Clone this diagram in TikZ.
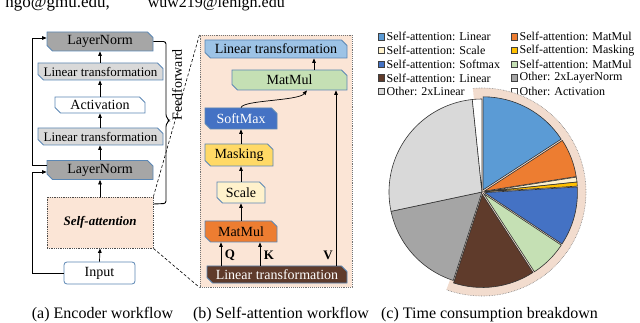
\documentclass[tikz,border=0pt]{standalone}
\usepackage{fontspec}
\setmainfont{Liberation Serif}
\usetikzlibrary{arrows.meta,shapes.misc,calc}
\definecolor{bdr}{HTML}{5B87B4}
\definecolor{lngray}{HTML}{A6A6A6}
\definecolor{ltgray}{HTML}{D9D9D9}
\definecolor{peach}{HTML}{FBE5D6}
\definecolor{peachbg}{HTML}{F2DCCE}
\definecolor{ltblue}{HTML}{9DC3E6}
\definecolor{pgreen}{HTML}{C5E0B4}
\definecolor{smblue}{HTML}{4472C4}
\definecolor{myellow}{HTML}{FFD966}
\definecolor{cream}{HTML}{FFF2CC}
\definecolor{morange}{HTML}{ED7D31}
\definecolor{mbrown}{HTML}{5F3B2B}
\definecolor{linblue}{HTML}{5B9BD5}
\definecolor{mgold}{HTML}{FFC000}
\definecolor{pgray}{HTML}{A5A5A5}
\newcommand\fsz[1]{\fontsize{#1}{#1}\selectfont}
\newcommand\pieslice[4]{%
  \pgfmathsetmacro\psA{#1-90}%
  \pgfmathsetmacro\psB{#2-90}%
  \pgfmathsetmacro\psM{(#1+#2)/2-90}%
  \filldraw[slice, fill=#3, shift={(\psM:#4)}] (482,192) -- ++(\psA:93) arc[start angle=\psA, end angle=\psB, radius=93] -- cycle;}
\begin{document}
\begin{tikzpicture}[x=1pt,y=-1pt,
  box/.style={chamfered rectangle, chamfered rectangle corners={north east,south west},
    chamfered rectangle xsep=2.5pt, draw=bdr, line width=0.8pt, inner sep=0pt, font=\fsz{14}},
  arr/.style={-{Triangle[length=4.5pt,width=3.6pt]}, line width=0.7pt},
  slice/.style={draw=black!80, line width=0.6pt},
  legsq/.style={draw=black!75, line width=0.5pt, minimum size=6.5pt, inner sep=0pt},
  legtxt/.style={anchor=west, font=\fsz{12}, inner sep=0pt},
  captxt/.style={font=\fsz{16}, anchor=base, inner sep=0pt},
  zoomln/.style={dash pattern=on 3pt off 2pt, line width=0.6pt}]
\useasboundingbox (0,0) rectangle (640,323);

% cut-off header text
\node[font=\fsz{17}, anchor=base east, inner sep=0pt] (mail1) at (110,8) {ngo@gmu.edu,};
\node[font=\fsz{16}, anchor=base east, inner sep=0pt] (mail2) at (285,8) {\textsuperscript{*}wuw219@lehigh.edu};

% ---------- panel (a)
\node[box, fill=lngray, minimum width=106pt, minimum height=19pt] (ln1) at (100,41.5) {LayerNorm};
\node[box, fill=ltgray, minimum width=125pt, minimum height=17pt, font=\fsz{13}] (lt1) at (100.5,71.5) {Linear transformation};
\node[box, fill=white, minimum width=90pt, minimum height=16pt] (act) at (100,105) {Activation};
\node[box, fill=ltgray, minimum width=125pt, minimum height=17pt, font=\fsz{13}] (lt2) at (100.5,136.5) {Linear transformation};
\node[box, fill=lngray, minimum width=106pt, minimum height=19pt] (ln2) at (100,170) {LayerNorm};
\node[draw=black!70, densely dotted, line width=0.8pt, fill=peach, minimum width=106pt, minimum height=51pt,
  font=\fsz{13}\bfseries\itshape] (sa) at (100,222.5) {Self-attention};
\node[rounded corners=3pt, draw=bdr, line width=0.8pt, fill=white, minimum width=71pt, minimum height=22pt,
  font=\fsz{14}] (inp) at (99.5,273) {Input};

\draw[arr] (inp.north) -- (sa.south);
\draw[arr] (sa.north) -- (ln2.south);
\draw[arr] (ln2.north) -- (ln2.north |- lt2.south);
\draw[arr] (lt2.north -| act.south) -- (act.south);
\draw[arr] (act.north) -- (act.north |- lt1.south);
\draw[arr] (lt1.north -| ln1.south) -- (ln1.south);
\draw[arr] (inp.west) -- ++(-31,0) |- ([yshift=-2pt]ln2.west);
\draw[arr] ([yshift=5pt]ln2.west) -- ++(-14,0) |- ([yshift=3.5pt]ln1.west);

\draw[line width=0.9pt, rounded corners=2.5pt] (ln1.east) -- (166,41.5) -- (166,117) -- (169.5,120.5) -- (166,124)
  -- (166,203.5) -- ([yshift=18.5pt]sa.east);
\node[rotate=90, font=\fsz{14}, inner sep=0pt] (ff) at (177,85) {Feedforward};

% ---------- panel (b)
\node[draw=black!55, densely dotted, line width=0.9pt, fill=peach, minimum width=152pt, minimum height=252pt] (pb) at (276,161) {};
\draw[zoomln] (sa.north east) -- (pb.north west);
\draw[zoomln] (sa.south east) -- (pb.south west);

\node[box, fill=ltblue, minimum width=142pt, minimum height=18pt] (blt) at (276,49) {Linear transformation};
\node[box, fill=pgreen, minimum width=115pt, minimum height=20pt] (mmg) at (289.5,80) {MatMul};
\node[box, fill=smblue, text=white, minimum width=72pt, minimum height=21pt] (sm) at (241,118.5) {SoftMax};
\node[box, fill=myellow, minimum width=68pt, minimum height=22pt] (mask) at (239,155) {Masking};
\node[box, fill=cream, minimum width=48pt, minimum height=21pt] (scale) at (241,192.5) {Scale};
\node[box, fill=morange, minimum width=72pt, minimum height=21pt] (mmo) at (241,231.5) {MatMul};
\node[box, fill=mbrown, text=white, minimum width=140pt, minimum height=17pt] (llt) at (277,274.5) {Linear transformation};

\coordinate (qx) at (221,0);
\coordinate (kx) at (260,0);
\coordinate (vx) at (336,0);
\coordinate (sx) at (307,0);
\coordinate (mx) at (314,0);
\draw[arr] (qx |- llt.north) -- (qx |- mmo.south);
\draw[arr] (kx |- llt.north) -- (kx |- mmo.south);
\draw[arr] (vx |- llt.north) -- (vx |- mmg.south);
\draw[arr] (mmo.north) -- (scale.south);
\draw[arr] (scale.north) -- (scale.north |- mask.south);
\draw[arr] (sm.south |- mask.north) -- (sm.south);
\draw[arr] (sm.north) .. controls (243,100) and (298,101) .. (sx |- mmg.south);
\draw[arr] (mx |- mmg.north) -- (mx |- blt.south);
\node[font=\fsz{13}\bfseries, inner sep=0pt] (ql) at (230,255) {Q};
\node[font=\fsz{13}\bfseries, inner sep=0pt] (kl) at (269,255) {K};
\node[font=\fsz{13}\bfseries, inner sep=0pt] (vl) at (328,255) {V};

% ---------- panel (c): legend
\node[legsq, fill=linblue] (q1) at (381,36.7) {};
\node[legtxt] (t1) at (386.5,36.7) {Self-attention: Linear};
\node[legsq, fill=cream] (q2) at (381,50.5) {};
\node[legtxt] (t2) at (386.5,50.5) {Self-attention: Scale};
\node[legsq, fill=smblue] (q3) at (381,64.2) {};
\node[legtxt] (t3) at (386.5,64.2) {Self-attention: Softmax};
\node[legsq, fill=mbrown] (q4) at (381,77.9) {};
\node[legtxt] (t4) at (386.5,77.9) {Self-attention: Linear};
\node[legsq, fill=ltgray] (q5) at (381,91.5) {};
\node[legtxt] (t5) at (386.5,91.5) {Other: 2xLinear};
\node[legsq, fill=morange] (q6) at (514,36.7) {};
\node[legtxt] (t6) at (519.5,36.7) {Self-attention: MatMul};
\node[legsq, fill=mgold] (q7) at (514,50.5) {};
\node[legtxt] (t7) at (519.5,50.5) {Self-attention: Masking};
\node[legsq, fill=pgreen] (q8) at (514,64.2) {};
\node[legtxt] (t8) at (519.5,64.2) {Self-attention: MatMul};
\node[legsq, fill=pgray] (q9) at (514,77.9) {};
\node[legtxt] (t9) at (519.5,77.9) {Other: 2xLayerNorm};
\node[legsq, fill=white] (q10) at (514,91.5) {};
\node[legtxt] (t10) at (519.5,91.5) {Other: Activation};

% ---------- pie
\fill[peachbg] (482,192) -- ++(-95:104) arc[start angle=-95, end angle=110, radius=104] -- cycle;
\draw[densely dotted, black!50, line width=0.6pt] (482,192) ++(-95:104) arc[start angle=-95, end angle=110, radius=104];
\pieslice{0}{57}{linblue}{2.5}
\pieslice{57}{81}{morange}{2.5}
\pieslice{81}{84}{cream}{2.5}
\pieslice{84}{86.5}{mgold}{2.5}
\pieslice{86.5}{123.5}{smblue}{2.5}
\pieslice{123.5}{147}{pgreen}{2.5}
\pieslice{147}{198}{mbrown}{2.5}
\pieslice{198}{258}{pgray}{0}
\pieslice{258}{354}{ltgray}{0}
\pieslice{354}{360}{white}{0}

% ---------- captions
\node[captxt] (capa) at (102.5,318) {(a) Encoder workflow};
\node[captxt] (capb) at (281,318) {(b) Self-attention workflow};
\node[captxt] (capc) at (489.5,318) {(c) Time consumption breakdown};
\end{tikzpicture}
\end{document}
